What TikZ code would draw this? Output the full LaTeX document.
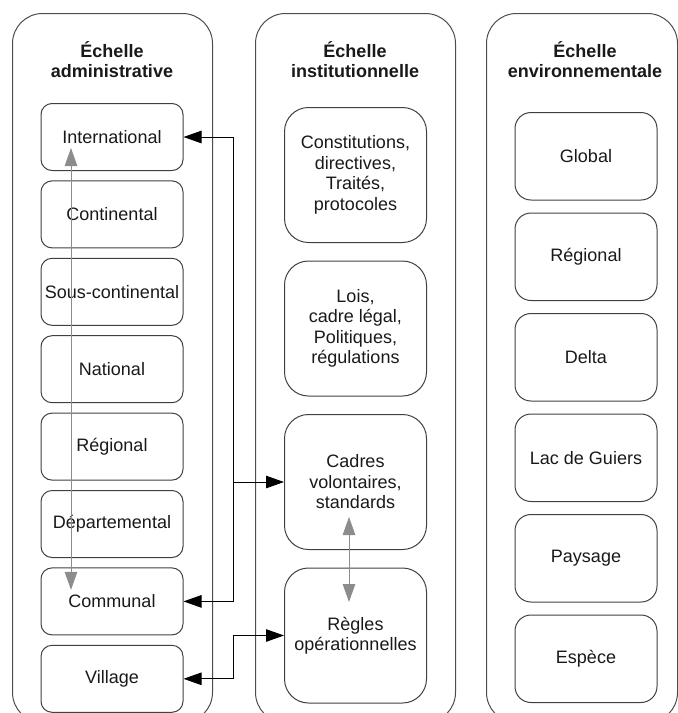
\documentclass[tikz,border=0pt]{standalone}
\usepackage{fontspec}
\setmainfont{Liberation Sans}
\usetikzlibrary{positioning, arrows.meta, calc}

\begin{document}
\begin{tikzpicture}[
    x=1pt, y=-1pt,
    every node/.style={font=\fontsize{18}{20.5}\selectfont, text=black!90},
    column/.style={draw=black!70, line width=1pt, rounded corners=30pt, minimum width=200pt, minimum height=709pt, anchor=north west, inner sep=0pt},
    heading/.style={font=\fontsize{18}{20}\selectfont\bfseries, align=center},
    adminbox/.style={draw=black!75, line width=1pt, rounded corners=11pt, minimum width=142pt, minimum height=67pt, align=center, inner sep=0pt},
    instbox/.style={adminbox, rounded corners=24pt, minimum height=135pt},
    envbox/.style={adminbox, rounded corners=16pt, minimum height=87.5pt},
    arr/.style={-{Triangle[length=18pt, width=12.5pt]}, line width=1pt},
    biarr/.style={{Triangle[length=18pt, width=12.5pt]}-{Triangle[length=18pt, width=12.5pt]}, line width=1pt},
    garr/.style={biarr, draw=black!45}
]
    \useasboundingbox (0,0) rectangle (678,713);

    % the three scales
    \node[column] (admin) at (12,13) {};
    \node[column] (inst) at (255,13) {};
    \node[column, minimum width=191pt] (env) at (486,13) {};

    \node[heading] (admintitle) at (112,60) {Échelle\\administrative};
    \node[heading] (insttitle) at (355,60) {Échelle\\institutionnelle};
    \node[heading] (envtitle) at (585,60) {Échelle\\environnementale};

    % administrative levels
    \node[adminbox, anchor=north] (intl) at (112,103) {International};
    \node[adminbox] (conti) [below=9.4pt of intl] {Continental};
    \node[adminbox] (souscont) [below=9.4pt of conti] {Sous-continental};
    \node[adminbox] (national) [below=9.4pt of souscont] {National};
    \node[adminbox] (regional) [below=9.4pt of national] {Régional};
    \node[adminbox] (depart) [below=9.4pt of regional] {Départemental};
    \node[adminbox] (communal) [below=9.4pt of depart] {Communal};
    \node[adminbox] (village) [below=9.4pt of communal] {Village};

    % institutional levels
    \node[instbox, anchor=north] (constit) at (355.5,107) {Constitutions,\\directives,\\Traités,\\protocoles};
    \node[instbox] (lois) [below=17.5pt of constit] {Lois,\\cadre légal,\\Politiques,\\régulations};
    \node[instbox] (cadres) [below=17.5pt of lois] {Cadres\\volontaires,\\standards};
    \node[instbox] (regles) [below=17.5pt of cadres] {Règles\\opérationnelles};

    % environmental levels
    \node[envbox, anchor=north] (global) at (586,112) {Global};
    \node[envbox] (envreg) [below=12pt of global] {Régional};
    \node[envbox] (delta) [below=12pt of envreg] {Delta};
    \node[envbox] (guiers) [below=12pt of delta] {Lac de Guiers};
    \node[envbox] (paysage) [below=12pt of guiers] {Paysage};
    \node[envbox] (espece) [below=12pt of paysage] {Espèce};

    % links between scales
    \coordinate (hub) at ([xshift=50pt]intl.east |- cadres.west);
    \coordinate (split) at ([xshift=50pt]village.east |- regles.west);
    \draw[arr] (hub) -- (cadres.west);
    \draw[arr] (hub) |- (intl.east);
    \draw[arr] (hub) |- (communal.east);
    \draw[biarr] (village.east) -| (split) -- (regles.west);

    \draw[garr] ([shift={(-41,11)}]intl.center) -- ([shift={(-41,-11.5)}]communal.center);
    \draw[garr] ([shift={(-6.5,35)}]cadres.center) -- ([shift={(-6.5,-33.5)}]regles.center);
\end{tikzpicture}
\end{document}
